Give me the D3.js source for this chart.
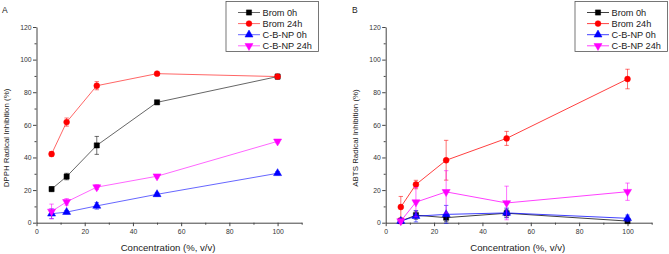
<!DOCTYPE html>
<html><head><meta charset="utf-8">
<script src="https://cdn.jsdelivr.net/npm/d3@7"></script>
<style>body{margin:0;background:#fff}svg{display:block;font-family:"Liberation Sans",Arial,sans-serif}</style>
</head><body>
<svg id="c" width="669" height="254"></svg>
<script>
const concentrations = [6.25, 12.5, 25, 50, 100];
const seriesNames = ["Brom 0h", "Brom 24h", "C-B-NP 0h", "C-B-NP 24h"];
const seriesColors = ["#000000", "#ff0000", "#0000ff", "#ff00ff"];
const seriesSymbols = ["square", "circle", "triangleUp", "triangleDown"];
const xTicks = [0, 20, 40, 60, 80, 100];
const yTicks = [0, 20, 40, 60, 80, 100, 120];

// Panel A: DPPH
const dpphBrom0h = [20.6, 28.3, 47.4, 73.8, 89.6];
const dpphBrom0hErr = [1.5, 2, 5.5, 1, 1.5];
const dpphBrom24h = [42.1, 61.7, 84.0, 91.4, 89.6];
const dpphBrom24hErr = [1.5, 2.5, 2.5, 0.8, 1];
const dpphCBNP0h = [5.5, 6.5, 10.3, 17.4, 30.3];
const dpphCBNP0hErr = [3, 1, 2, 1, 1];
const dpphCBNP24h = [6.9, 12.8, 21.8, 28.5, 49.9];
const dpphCBNP24hErr = [4.5, 2, 1.5, 1, 1];

// Panel B: ABTS
const abtsBrom0h = [1.0, 4.6, 3.1, 5.8, 1.0];
const abtsBrom0hErr = [1, 2.5, 2.5, 2.5, 1];
const abtsBrom24h = [9.6, 23.4, 38.3, 51.7, 88.1];
const abtsBrom24hErr = [6.5, 2.6, 12.2, 4.3, 6];
const abtsCBNP0h = [1.0, 4.0, 5.1, 6.0, 2.7];
const abtsCBNP0hErr = [1, 3.5, 5.5, 3, 2];
const abtsCBNP24h = [1.0, 12.6, 18.9, 12.1, 19.0];
const abtsCBNP24hErr = [1, 9, 13, 10.3, 5.3];

const panels = [
  {label: "A", yLabel: "DPPH Radical Inhibition (%)", x0: 36.5, x1: 301.7, legX: 226,
   values: [dpphBrom0h, dpphBrom24h, dpphCBNP0h, dpphCBNP24h],
   errs: [dpphBrom0hErr, dpphBrom24hErr, dpphCBNP0hErr, dpphCBNP24hErr],
   lineOp: 0.6, labelX: 2, yLabelX: 9},
  {label: "B", yLabel: "ABTS Radical Inhibition (%)", x0: 385.7, x1: 651.7, legX: 575,
   values: [abtsBrom0h, abtsBrom24h, abtsCBNP0h, abtsCBNP24h],
   errs: [abtsBrom0hErr, abtsBrom24hErr, abtsCBNP0hErr, abtsCBNP24hErr],
   lineOp: 0.75, labelX: 352, yLabelX: 358}
];

const svg = d3.select("#c");
const yTop = 27, yBot = 222.7;
const axisColor = "#444";

function symbolPath(type) {
  if (type === "square") return d3.symbol(d3.symbolSquare, 27)();
  if (type === "circle") return d3.symbol(d3.symbolCircle, 27)();
  return d3.symbol(d3.symbolTriangle, 28)();
}
function drawSymbol(g, type, color, x, y) {
  g.append("path").attr("d", symbolPath(type))
    .attr("transform", `translate(${x},${y})` + (type === "triangleDown" ? " rotate(180)" : ""))
    .attr("fill", color).attr("stroke", color).attr("stroke-width", 0.5);
}

panels.forEach(p => {
  const x = d3.scaleLinear().domain([0, 110]).range([p.x0, p.x1]);
  const y = d3.scaleLinear().domain([0, 120]).range([yBot, yTop]);
  const g = svg.append("g");

  const xAxis = d3.axisBottom(x).tickValues(xTicks).tickSize(3.5).tickSizeOuter(0).tickPadding(2.5);
  const gx = g.append("g").attr("transform", `translate(0,${yBot})`).call(xAxis);
  const xMinor = d3.axisBottom(x).tickValues([10, 30, 50, 70, 90, 110]).tickSize(2).tickSizeOuter(0).tickFormat("");
  const gxm = g.append("g").attr("transform", `translate(0,${yBot})`).call(xMinor);
  gxm.select(".domain").remove();
  const yAxis = d3.axisLeft(y).tickValues(yTicks).tickSize(3.5).tickSizeOuter(0).tickPadding(1.5);
  const gy = g.append("g").attr("transform", `translate(${p.x0},0)`).call(yAxis);
  const yMinor = d3.axisLeft(y).tickValues([10, 30, 50, 70, 90, 110]).tickSize(2).tickSizeOuter(0).tickFormat("");
  const gym = g.append("g").attr("transform", `translate(${p.x0},0)`).call(yMinor);
  gym.select(".domain").remove();
  [gx, gxm, gy, gym].forEach(a => {
    a.selectAll("path,line").attr("stroke", axisColor).attr("stroke-width", 1);
    a.selectAll("text").attr("fill", "#333").attr("font-size", 6.8).attr("font-family", "Liberation Sans, Arial, sans-serif");
  });

  g.append("text").attr("x", (p.x0 + p.x1) / 2 - 1).attr("y", 251)
    .attr("text-anchor", "middle").attr("font-size", 9.6).attr("fill", "#222")
    .text("Concentration (%, v/v)");
  g.append("text").attr("transform", `translate(${p.yLabelX},138) rotate(-90)`)
    .attr("text-anchor", "middle").attr("font-size", 7.9).attr("fill", "#222")
    .text(p.yLabel);
  g.append("text").attr("x", p.labelX).attr("y", 13).attr("font-size", 8.5).attr("fill", "#222").text(p.label);

  [0, 1, 2, 3].forEach(i => {
    const vals = p.values[i], errs = p.errs[i], col = seriesColors[i];
    const pts = concentrations.map((c, k) => ({c, v: vals[k], e: errs[k]}));
    const sg = g.append("g");
    sg.append("path").datum(pts)
      .attr("d", d3.line().x(d => x(d.c)).y(d => y(d.v)))
      .attr("fill", "none").attr("stroke", col).attr("stroke-width", 1).attr("stroke-opacity", p.lineOp);
    pts.forEach(d => {
      const cx = x(d.c), yt = y(d.v + d.e), yb = y(d.v - d.e);
      sg.append("line").attr("x1", cx).attr("x2", cx).attr("y1", yt).attr("y2", yb)
        .attr("stroke", col).attr("stroke-width", 0.8).attr("stroke-opacity", 0.7);
      [yt, yb].forEach(yy => sg.append("line").attr("x1", cx - 2.2).attr("x2", cx + 2.2)
        .attr("y1", yy).attr("y2", yy).attr("stroke", col).attr("stroke-width", 0.8).attr("stroke-opacity", 0.7));
    });
    pts.forEach(d => drawSymbol(sg, seriesSymbols[i], col, x(d.c), y(d.v)));
  });

  const lg = g.append("g");
  lg.append("rect").attr("x", p.legX).attr("y", 1.5).attr("width", 92.5).attr("height", 50)
    .attr("fill", "#fff").attr("stroke", "#555").attr("stroke-width", 0.8);
  seriesNames.forEach((name, i) => {
    const ry = 12.5 + i * 11.1;
    lg.append("line").attr("x1", p.legX + 12).attr("x2", p.legX + 34).attr("y1", ry).attr("y2", ry)
      .attr("stroke", seriesColors[i]).attr("stroke-width", 1).attr("stroke-opacity", p.lineOp);
    drawSymbol(lg, seriesSymbols[i], seriesColors[i], p.legX + 23, ry);
    lg.append("text").attr("x", p.legX + 36.5).attr("y", ry + 3.3).attr("font-size", 9.2)
      .attr("fill", "#222").text(name);
  });
});
</script>
</body></html>
